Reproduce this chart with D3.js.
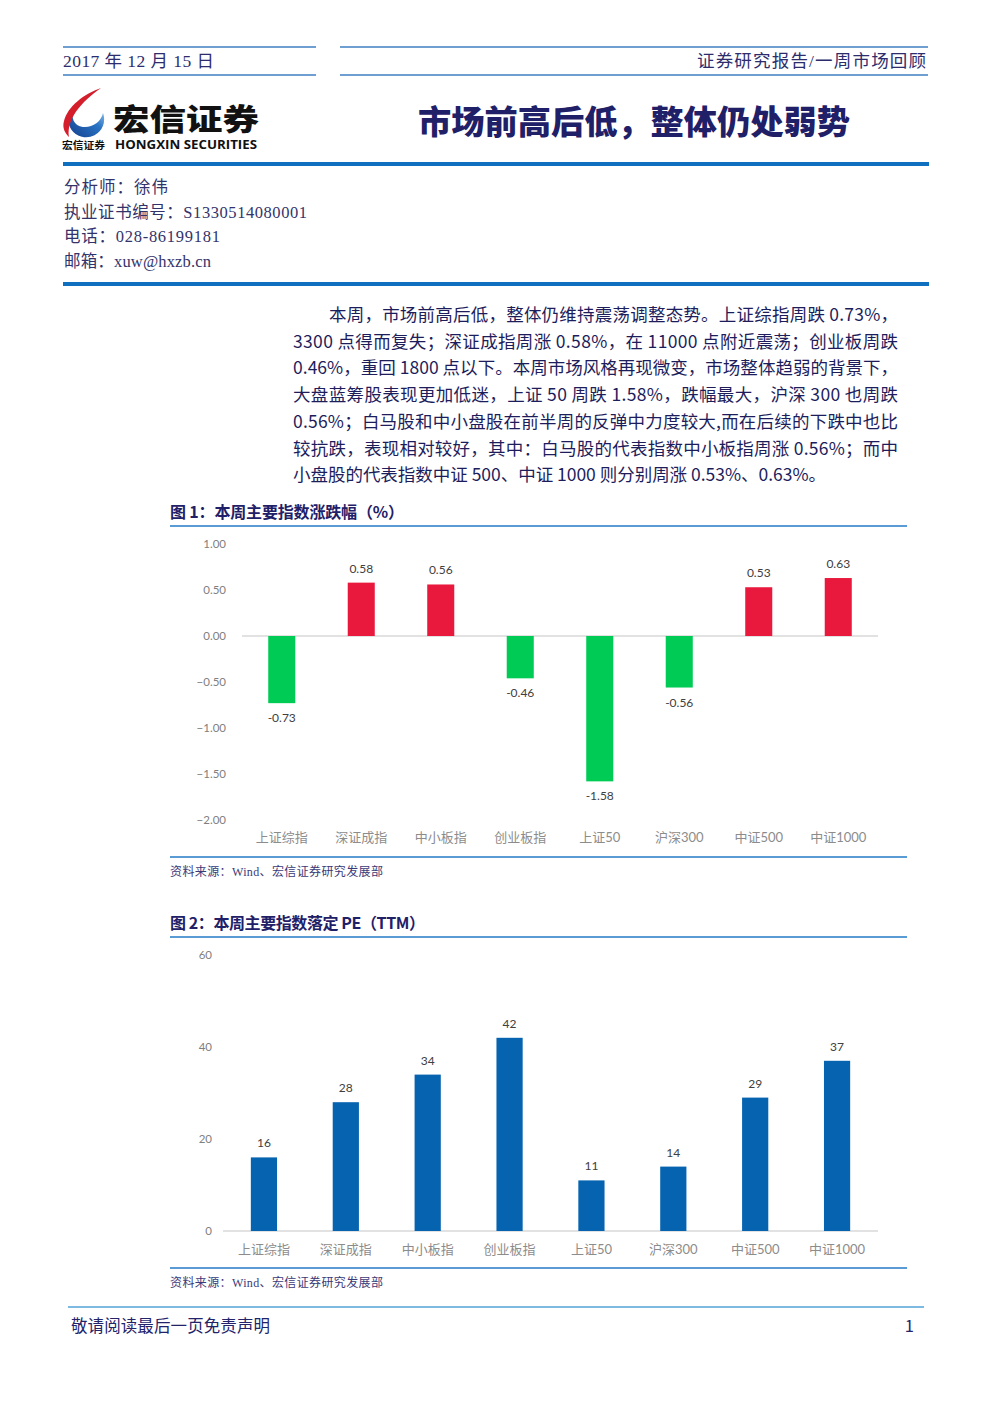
<!DOCTYPE html>
<html><head><meta charset="utf-8">
<script src="https://cdn.jsdelivr.net/npm/d3@7"></script>
<style>
html,body{margin:0;padding:0;background:#fff;}
svg{display:block;}
</style></head>
<body>
<script>
const categories = ["上证综指","深证成指","中小板指","创业板指","上证50","沪深300","中证500","中证1000"];
const weeklyChange = [-0.73, 0.58, 0.56, -0.46, -1.58, -0.56, 0.53, 0.63];
const changeLabels = ["-0.73","0.58","0.56","-0.46","-1.58","-0.56","0.53","0.63"];
const changeTicks = [1, 0.5, 0, -0.5, -1, -1.5, -2];
const peValues = [16, 28, 34, 42, 11, 14, 29, 37];
const peTicks = [0, 20, 40, 60];
const analystLines = ["分析师：徐伟","执业证书编号：S1330514080001","电话：028-86199181","邮箱：xuw@hxzb.cn"];
const analystWidths = [104, 243, 156, 147];
const paraLines = [
  "本周，市场前高后低，整体仍维持震荡调整态势。上证综指周跌 0.73%，",
  "3300 点得而复失；深证成指周涨 0.58%，在 11000 点附近震荡；创业板周跌",
  "0.46%，重回 1800 点以下。本周市场风格再现微变，市场整体趋弱的背景下，",
  "大盘蓝筹股表现更加低迷，上证 50 周跌 1.58%，跌幅最大，沪深 300 也周跌",
  "0.56%；白马股和中小盘股在前半周的反弹中力度较大,而在后续的下跌中也比",
  "较抗跌，表现相对较好，其中：白马股的代表指数中小板指周涨  0.56%；而中",
  "小盘股的代表指数中证 500、中证 1000 则分别周涨 0.53%、0.63%。"
];

const W = 992, H = 1403;
const serif = "'Liberation Serif','DejaVu Serif','Noto Sans CJK SC',serif";
const sans = "'Noto Sans CJK SC','Noto Sans',sans-serif";
const chartFont = "Lato,'Noto Sans CJK SC',sans-serif";

const svg = d3.select("body").append("svg").attr("width", W).attr("height", H);
svg.append("rect").attr("width", W).attr("height", H).attr("fill", "#fff");

// ---- header ----
const hdrLine = "#3f7fc0";
[[63,316],[340,928]].forEach(([a,b]) => {
  [47,75].forEach(y => svg.append("line").attr("x1",a).attr("x2",b).attr("y1",y).attr("y2",y)
    .attr("stroke",hdrLine).attr("stroke-width",1.3));
});
svg.append("text").attr("x",63).attr("y",67).attr("font-family",serif).attr("font-size",17.5)
  .attr("fill","#2d2d6e").attr("textLength",151).attr("lengthAdjust","spacing").text("2017 年 12 月 15 日");
svg.append("text").attr("x",697).attr("y",67).attr("font-family",serif)
  .attr("font-size",17.5).attr("fill","#2d2d6e").attr("textLength",229).attr("lengthAdjust","spacing").text("证券研究报告/一周市场回顾");

// logo
const defs = svg.append("defs");
const g1 = defs.append("linearGradient").attr("id","blueg").attr("x1","0").attr("y1","1").attr("x2","1").attr("y2","0");
g1.append("stop").attr("offset","0").attr("stop-color","#123f8c");
g1.append("stop").attr("offset","0.6").attr("stop-color","#2a73c4");
g1.append("stop").attr("offset","1").attr("stop-color","#9fd0f2");
svg.append("path").attr("d","M74,106 A18,18 0 1 0 103,113 C101,122 92,128 83,127 C74,126 70,118 74,106 Z")
  .attr("fill","url(#blueg)");
svg.append("path").attr("d","M101,88 C84,94 68,106 64,121 C62,128 65,133 69,137 C67,124 74,107 101,88 Z")
  .attr("fill","#d41e2b");
svg.append("text").attr("x",113).attr("y",130).attr("font-family",sans).attr("font-weight",900)
  .attr("font-size",30).attr("fill","#111").attr("textLength",146).attr("lengthAdjust","spacingAndGlyphs").text("宏信证券");
svg.append("text").attr("x",115).attr("y",149).attr("font-family","'Open Sans',sans-serif").attr("font-weight",700)
  .attr("font-size",11.5).attr("fill","#111").attr("textLength",142).attr("lengthAdjust","spacingAndGlyphs").text("HONGXIN SECURITIES");
svg.append("text").attr("x",62).attr("y",149).attr("font-family",sans).attr("font-weight",700)
  .attr("font-size",10).attr("fill","#111").attr("textLength",43).attr("lengthAdjust","spacingAndGlyphs").text("宏信证券");

svg.append("text").attr("x",418).attr("y",134).attr("font-family",sans)
  .attr("font-weight",900).attr("font-size",33).attr("fill","#1f2068")
  .attr("textLength",432).attr("lengthAdjust","spacingAndGlyphs").text("市场前高后低，整体仍处弱势");

svg.append("rect").attr("x",63).attr("y",162).attr("width",866).attr("height",4).attr("fill","#1070c0");

analystLines.forEach((t,i) => {
  svg.append("text").attr("x",64).attr("y",193 + i*24.5).attr("font-family",serif)
    .attr("font-size",16.5).attr("fill","#33336b")
    .attr("textLength",analystWidths[i]).attr("lengthAdjust","spacing").text(t);
});
svg.append("rect").attr("x",63).attr("y",282).attr("width",866).attr("height",4).attr("fill","#1070c0");

// paragraph
paraLines.forEach((t,i) => {
  const x0 = i === 0 ? 329 : 293;
  const tx = svg.append("text").attr("x", x0).attr("y", 321 + i*26.7).attr("font-family",sans)
    .attr("font-size",17.5).attr("fill","#1d1d5c").text(t);
  if (i < paraLines.length - 1) tx.attr("textLength", 898 - x0).attr("lengthAdjust","spacing");
  else tx.attr("textLength", 826 - x0).attr("lengthAdjust","spacing");
});

// ---- figure helpers ----
function figFrame(title, titleW, yTitle, yTop, yBottom) {
  svg.append("text").attr("x",170).attr("y",yTitle).attr("font-family",sans).attr("font-weight",700)
    .attr("font-size",16).attr("fill","#1f2068").attr("textLength",titleW).attr("lengthAdjust","spacing").text(title);
  svg.append("line").attr("x1",170).attr("x2",907).attr("y1",yTop).attr("y2",yTop)
    .attr("stroke","#5b9bd5").attr("stroke-width",2);
  svg.append("line").attr("x1",170).attr("x2",907).attr("y1",yBottom).attr("y2",yBottom)
    .attr("stroke","#5b9bd5").attr("stroke-width",2);
  svg.append("text").attr("x",170).attr("y",yBottom+19).attr("font-family",serif)
    .attr("font-size",12).attr("fill","#3a3a78").attr("textLength",213).attr("lengthAdjust","spacing")
    .text("资料来源：Wind、宏信证券研究发展部");
}

// ---- Figure 1 ----
figFrame("图 1：本周主要指数涨跌幅（%）", 234, 518, 526, 857);
const x1 = d3.scaleBand().domain(categories).range([242, 878]).paddingInner(0.66).paddingOuter(0.33);
const y1 = d3.scaleLinear().domain([-2, 1]).range([820, 544]);
const ax1 = svg.append("g").attr("transform","translate(242,0)")
  .call(d3.axisLeft(y1).tickValues(changeTicks).tickFormat(d3.format(".2f")).tickSize(0).tickPadding(16));
ax1.select(".domain").remove();
ax1.selectAll("text").attr("font-family",chartFont).attr("font-size",11.5).attr("fill","#7f7f7f");
svg.append("line").attr("x1",242).attr("x2",878).attr("y1",y1(0)).attr("y2",y1(0))
  .attr("stroke","#d9d9d9").attr("stroke-width",1.5);
svg.append("g").selectAll("rect").data(categories).join("rect")
  .attr("x", d => x1(d)).attr("width", x1.bandwidth())
  .attr("y", (d,i) => Math.min(y1(0), y1(weeklyChange[i])))
  .attr("height", (d,i) => Math.abs(y1(weeklyChange[i]) - y1(0)))
  .attr("fill", (d,i) => weeklyChange[i] >= 0 ? "#e8193c" : "#00cc55");
svg.append("g").selectAll("text").data(categories).join("text")
  .attr("x", d => x1(d) + x1.bandwidth()/2)
  .attr("y", (d,i) => weeklyChange[i] >= 0 ? y1(weeklyChange[i]) - 10 : y1(weeklyChange[i]) + 19)
  .attr("text-anchor","middle").attr("font-family",chartFont).attr("font-size",12)
  .attr("fill","#404040").text((d,i) => changeLabels[i]);
const bx1 = svg.append("g").attr("transform","translate(0,820)")
  .call(d3.axisBottom(x1).tickSize(0).tickPadding(13));
bx1.select(".domain").remove();
bx1.selectAll("text").attr("font-family",chartFont).attr("font-size",13).attr("fill","#8c8c8c");

// ---- Figure 2 ----
figFrame("图 2：本周主要指数落定 PE（TTM）", 255, 929, 937, 1268);
const x2 = d3.scaleBand().domain(categories).range([223, 878]).paddingInner(0.68).paddingOuter(0.34);
const y2 = d3.scaleLinear().domain([0, 60]).range([1231, 955]);
const ax2 = svg.append("g").attr("transform","translate(223,0)")
  .call(d3.axisLeft(y2).tickValues(peTicks).tickFormat(d3.format("d")).tickSize(0).tickPadding(11));
ax2.select(".domain").remove();
ax2.selectAll("text").attr("font-family",chartFont).attr("font-size",11.5).attr("fill","#7f7f7f");
svg.append("line").attr("x1",223).attr("x2",878).attr("y1",y2(0)).attr("y2",y2(0))
  .attr("stroke","#d9d9d9").attr("stroke-width",1.5);
svg.append("g").selectAll("rect").data(categories).join("rect")
  .attr("x", d => x2(d)).attr("width", x2.bandwidth())
  .attr("y", (d,i) => y2(peValues[i]))
  .attr("height", (d,i) => y2(0) - y2(peValues[i]))
  .attr("fill", "#0563af");
svg.append("g").selectAll("text").data(categories).join("text")
  .attr("x", d => x2(d) + x2.bandwidth()/2)
  .attr("y", (d,i) => y2(peValues[i]) - 10)
  .attr("text-anchor","middle").attr("font-family",chartFont).attr("font-size",12)
  .attr("fill","#404040").text((d,i) => peValues[i]);
const bx2 = svg.append("g").attr("transform","translate(0,1231)")
  .call(d3.axisBottom(x2).tickSize(0).tickPadding(14));
bx2.select(".domain").remove();
bx2.selectAll("text").attr("font-family",chartFont).attr("font-size",13).attr("fill","#8c8c8c");

// ---- footer ----
svg.append("line").attr("x1",68).attr("x2",924).attr("y1",1307).attr("y2",1307)
  .attr("stroke","#7db9e0").attr("stroke-width",2);
svg.append("text").attr("x",71).attr("y",1332).attr("font-family",sans).attr("font-size",16.5)
  .attr("fill","#23236b").attr("textLength",199).attr("lengthAdjust","spacing").text("敬请阅读最后一页免责声明");
svg.append("text").attr("x",914).attr("y",1332).attr("text-anchor","end").attr("font-family",sans).attr("font-size",16.5)
  .attr("fill","#23236b").text("1");
</script>
</body></html>
